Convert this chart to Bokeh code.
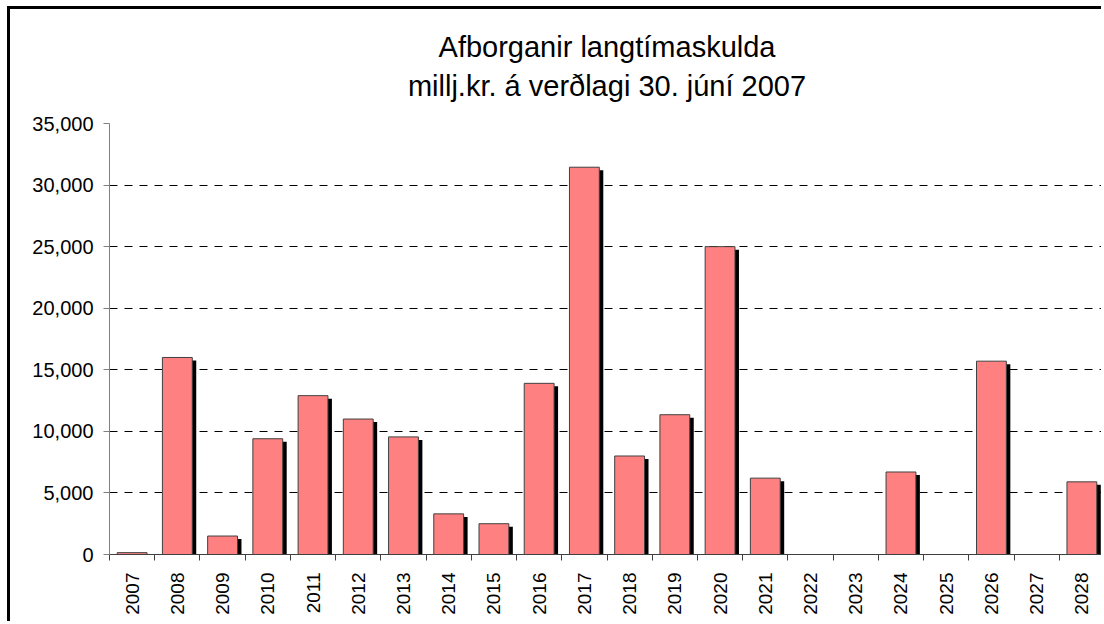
from math import pi
from bokeh.plotting import figure
from bokeh.models import Range1d, FixedTicker, ColumnDataSource, NumeralTickFormatter, Title
from bokeh.transform import dodge
from bokeh.embed import file_html
from bokeh.resources import INLINE

years = ["2007", "2008", "2009", "2010", "2011", "2012", "2013", "2014", "2015", "2016", "2017",
         "2018", "2019", "2020", "2021", "2022", "2023", "2024", "2025", "2026", "2027", "2028"]
values = [150, 16000, 1500, 9400, 12900, 11000, 9550, 3300, 2500, 13900, 31450,
          8000, 11350, 25000, 6200, 0, 0, 6700, 0, 15700, 0, 5900]
y_ticks = [0, 5000, 10000, 15000, 20000, 25000, 30000, 35000]
title_line1 = "Afborganir langtímaskulda"
title_line2 = "millj.kr. á verðlagi 30. júní 2007"

FONT = "Liberation Sans"

src = ColumnDataSource(dict(x=list(range(len(years))), v=values))

p = figure(width=1094, height=615, output_backend="svg", toolbar_location=None,
           x_range=Range1d(-0.5, len(years) - 0.5), y_range=Range1d(0, 35000),
           min_border_left=99, min_border_right=0, min_border_top=114, min_border_bottom=70)
# outer chart border (left and top edges visible in the window)
p.styles = {"margin-left": "7px", "margin-top": "6px",
            "border-left": "3px solid black", "border-top": "3px solid black"}

p.title.text = title_line1
p.title.align = "center"
p.title.text_font = FONT
p.title.text_font_size = "29px"
p.title.text_font_style = "normal"
p.title.text_color = "black"
p.title.offset = -48
p.title.standoff = -34

t2 = Title(text=title_line2, align="center", text_font=FONT, text_font_size="29px",
           text_font_style="normal", text_color="black", offset=-48, standoff=44)
p.add_layout(t2, "above")

p.outline_line_color = None
p.background_fill_color = "white"
p.border_fill_color = "white"

# shadow bars
p.vbar(x=dodge("x", 0.088, range=p.x_range), top=dodge("v", -245), bottom=0, width=0.66,
       source=src, fill_color="black", line_color=None)
# main bars
p.vbar(x="x", top="v", bottom=0, width=0.66, source=src,
       fill_color="#FF8080", line_color="#404040", line_width=1)

p.yaxis.ticker = FixedTicker(ticks=y_ticks)
p.yaxis.formatter = NumeralTickFormatter(format="0,0")
p.yaxis.axis_line_color = "#808080"
p.yaxis.major_tick_line_color = "#808080"
p.yaxis.major_tick_out = 6
p.yaxis.major_tick_in = 0
p.yaxis.minor_tick_line_color = None
p.yaxis.major_label_standoff = 10
p.yaxis.major_label_text_font = FONT
p.yaxis.major_label_text_font_size = "20px"
p.yaxis.major_label_text_color = "black"

p.xaxis.ticker = FixedTicker(ticks=list(range(len(years))),
                             minor_ticks=[i - 0.5 for i in range(len(years) + 1)])
p.xaxis.major_label_overrides = {i: y for i, y in enumerate(years)}
p.xaxis.major_label_orientation = pi / 2
p.xaxis.major_tick_out = 0
p.xaxis.major_tick_in = 0
p.xaxis.minor_tick_out = 6
p.xaxis.minor_tick_in = 0
p.xaxis.minor_tick_line_color = "#404040"
p.xaxis.axis_line_color = "#404040"
p.xaxis.major_label_standoff = 12
p.xaxis.major_label_text_font = FONT
p.xaxis.major_label_text_font_size = "19px"
p.xaxis.major_label_text_color = "black"

p.xgrid.grid_line_color = None
p.ygrid.ticker = FixedTicker(ticks=y_ticks)
p.ygrid.grid_line_color = "black"
p.ygrid.grid_line_dash = "8 7"
p.ygrid.grid_line_width = 1

open("out.html", "w").write(file_html(p, INLINE))
